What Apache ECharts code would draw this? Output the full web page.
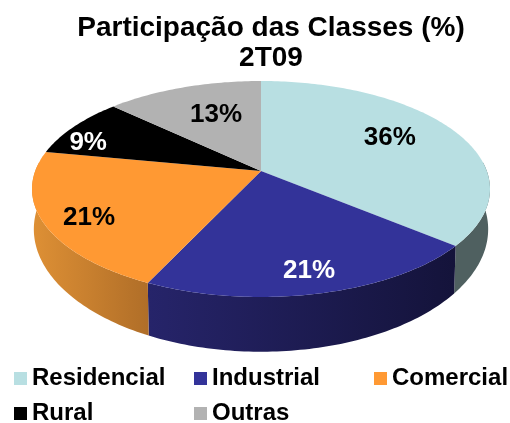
<!DOCTYPE html>
<html><head><meta charset="utf-8">
<style>html,body{margin:0;padding:0;background:#fff}#c{width:510px;height:423px}</style>
<script src="https://cdn.jsdelivr.net/npm/echarts@6/dist/echarts.min.js"></script>
</head><body><div id="c"></div>
<script>
const titleLines = ['Participação das Classes (%)', '2T09'];
const categories = ['Residencial', 'Industrial', 'Comercial', 'Rural', 'Outras'];
const values = [36, 21, 21, 9, 13];
const colors = ['#B8DFE2', '#333399', '#FF9933', '#000000', '#B2B2B2'];
const sideLeft = ['#4F6060', '#26246A', '#DE9035', '#000000', '#B2B2B2'];
const sideRight = ['#4F6060', '#14133A', '#B06E28', '#000000', '#B2B2B2'];
const labelColors = ['#000', '#fff', '#000', '#fff', '#000'];
const labelRadius = [0.70, 0.83, 0.816, 0.858, 0.646];
const labelAngleShift = [-5.1, -0.2, -2.4, -6.5, 3.6];
const legendCols = [14, 194, 374, 14, 194];
const legendRows = [366.5, 366.5, 366.5, 401.5, 401.5];

const FONT = '"Liberation Sans", Arial, sans-serif';
const CX = 261, CY = 171, A = 225.8, B = 105, K = 1 / 6, DEPTH = 38;
const total = values.reduce((a, b) => a + b, 0);
function proj(r, deg) {
  const t = deg * Math.PI / 180, u = r * Math.sin(t), v = r * Math.cos(t), w = 1 + K * v;
  return [CX + A * u / w, CY - B * v / w, w];
}
function lower(deg) {
  const p = proj(1, deg);
  return [CX + (p[0] - CX) * 0.992, p[1] + DEPTH / (p[2] * p[2])];
}
function renderSlice(i) {
  return function (params, api) {
    const val = api.value(0);
    const before = values.slice(0, i).reduce((a, b) => a + b, 0);
    const a0 = before / total * 360, a1 = (before + val) / total * 360;
    const rim = [], children = [];
    for (let d = a0; d < a1; d += 1) rim.push(d);
    rim.push(a1);
    const s0 = Math.max(a0, 85), s1 = Math.min(a1, 275);
    if (s1 > s0) {
      const arc = [];
      for (let d = s0; d < s1; d += 1) arc.push(d);
      arc.push(s1);
      const pts = arc.map(d => proj(1, d).slice(0, 2)).concat(arc.slice().reverse().map(lower));
      const xs = pts.map(p => p[0]);
      children.push({
        type: 'polygon', z2: 2 + i, shape: { points: pts },
        style: { fill: new echarts.graphic.LinearGradient(Math.min(...xs), 0, Math.max(...xs), 0,
          [{ offset: 0, color: sideLeft[i] }, { offset: 1, color: sideRight[i] }], true) }
      });
    }
    children.push({
      type: 'polygon', z2: 10,
      shape: { points: [[CX, CY]].concat(rim.map(d => proj(1, d).slice(0, 2))) },
      style: { fill: colors[i] }
    });
    const lp = proj(labelRadius[i], (a0 + a1) / 2 + labelAngleShift[i]);
    children.push({
      type: 'text', z2: 20, x: lp[0], y: lp[1] + 1.5,
      style: { text: val + '%', fill: labelColors[i], font: 'bold 26px ' + FONT, align: 'center', verticalAlign: 'middle' }
    });
    return { type: 'group', children };
  };
}
const chart = echarts.init(document.getElementById('c'), null, { renderer: 'canvas' });
chart.setOption({
  animation: false,
  backgroundColor: '#fff',
  title: {
    text: titleLines.join('\n'), left: 266, top: 8, textAlign: 'center',
    textStyle: { fontFamily: FONT, fontWeight: 'bold', fontSize: 28, lineHeight: 30, color: '#000' }
  },
  legend: categories.map((c, i) => ({
    data: [c], left: legendCols[i], top: legendRows[i], padding: 0,
    icon: 'rect', itemWidth: 13, itemHeight: 13, itemGap: 0,
    textStyle: { fontFamily: FONT, fontWeight: 'bold', fontSize: 24, color: '#000' },
    selectedMode: false
  })),
  series: categories.map((c, i) => ({
    type: 'custom', name: c, coordinateSystem: 'none',
    itemStyle: { color: colors[i] },
    data: [[values[i]]],
    renderItem: renderSlice(i), silent: true
  }))
});
</script></body></html>
